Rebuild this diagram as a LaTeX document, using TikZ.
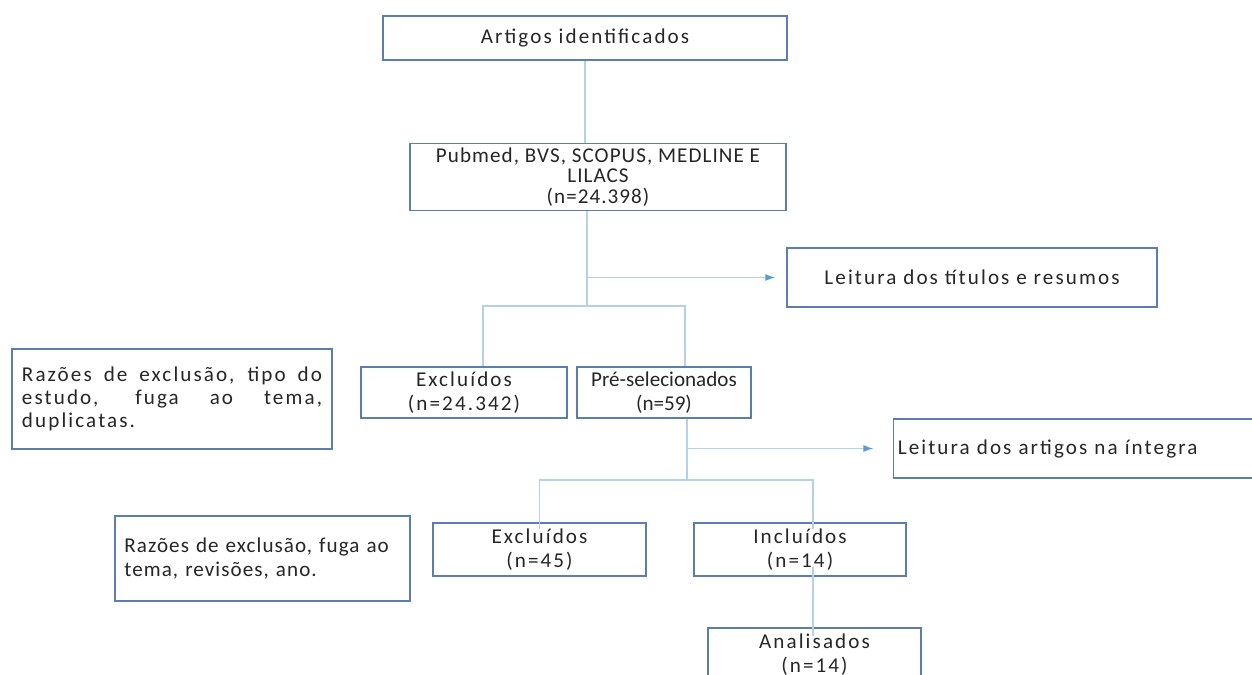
\documentclass[tikz,border=0pt]{standalone}
\usepackage{fontspec}
\setmainfont[LetterSpace=10]{Carlito}
\newfontfamily\midfont[LetterSpace=5]{Carlito}
\newfontfamily\plainfont{Carlito}
\usepackage{tikz}
\usetikzlibrary{arrows.meta, positioning}
\usepackage{xcolor}
\definecolor{boxblue}{HTML}{5B7DB1}
\definecolor{linkblue}{HTML}{B4D0EC}
\definecolor{tipblue}{HTML}{5B9BD5}
\definecolor{txtgray}{HTML}{262626}

\begin{document}
\begin{tikzpicture}[
x=0.025cm, y=-0.025cm,
font=\fontsize{15}{17.5}\selectfont, text=txtgray,
box/.style={draw=boxblue,
rectangle,
line width=0.8pt,
inner sep=2pt,
align=center},
link/.style={draw=linkblue, line width=0.9pt},
arrow/.style={link, -{Latex[length=7pt, width=5pt, color=tipblue]}}
]
\useasboundingbox (0,0) rectangle (1252,675);
\clip (0,0) rectangle (1252,675);

\node[box, minimum width=10.1cm, minimum height=1.1cm] (ident) at (585,38) {Artigos identificados};
\node[box, minimum width=9.4cm, minimum height=1.675cm, font=\midfont\fontsize{15}{14.5}\selectfont] (bases) at (598,177) {Pubmed, BVS, SCOPUS, MEDLINE E\\ LILACS\\ (n=24.398)};
\node[box, minimum width=9.25cm, minimum height=1.475cm] (titulos) at (972,277.5) {Leitura dos títulos e resumos};
\node[box, minimum width=5.15cm, minimum height=1.275cm] (excl1) at (464,392.5) {Excluídos\\ (n=24.342)};
\node[box, minimum width=4.35cm, minimum height=1.275cm, font=\plainfont\fontsize{15}{17.5}\selectfont] (pre) at (664,392.5) {Pré-selecionados\\ (n=59)};
\node[box, minimum width=8cm, minimum height=2.5cm, text width=7.5cm, align=justify, font=\fontsize{15}{16.5}\selectfont] (razoes1) at (172,399) {Razões de exclusão, tipo do\linebreak estudo, fuga ao tema,\linebreak duplicatas.};
\node[box, anchor=west, minimum height=1.475cm, text width=9.6cm, align=left, inner xsep=3pt] (integra) at (893,448.5) {Leitura dos artigos na íntegra};
\node[box, minimum width=5.325cm, minimum height=1.325cm] (excl2) at (539.5,549.5) {Excluídos\\ (n=45)};
\node[box, minimum width=5.3cm, minimum height=1.325cm] (incl) at (800,549.5) {Incluídos\\ (n=14)};
\node[box, minimum width=7.375cm, minimum height=2.125cm, text width=6.9cm, align=left, font=\midfont\fontsize{15}{16.5}\selectfont] (razoes2) at (262.5,558.5) {Razões de exclusão, fuga ao\\ tema, revisões, ano.};
\node[box, minimum width=5.325cm, minimum height=1.325cm] (anal) at (814.5,654.5) {Analisados\\ (n=14)};

% junctions
\coordinate (j1) at (587,306);
\coordinate (b1) at (483,306);
\coordinate (b2) at (685,306);
\coordinate (j2) at (687,480);
\coordinate (c1) at (813,480);

\draw[link] (ident.south) -- (ident.south |- bases.north);
\draw[link] (j1 |- bases.south) -- (j1);
\draw[arrow] (j1 |- titulos.west) -- ([xshift=-8]titulos.west);
\draw[link] (b1 |- excl1.north) -- (b1) -- (b2) -- (b2 |- pre.north);

\draw[link] (j2 |- pre.south) -- (j2);
\draw[arrow] (j2 |- integra.west) -- ([xshift=-14]integra.west);
\draw[link] ([yshift=-5]excl2.north) -- (excl2.north |- j2) -- (c1) -- ([yshift=-5]c1 |- incl.north);
\draw[link] ([yshift=7]c1 |- incl.south) -- ([yshift=-6]c1 |- anal.north);

\end{tikzpicture}
\end{document}
